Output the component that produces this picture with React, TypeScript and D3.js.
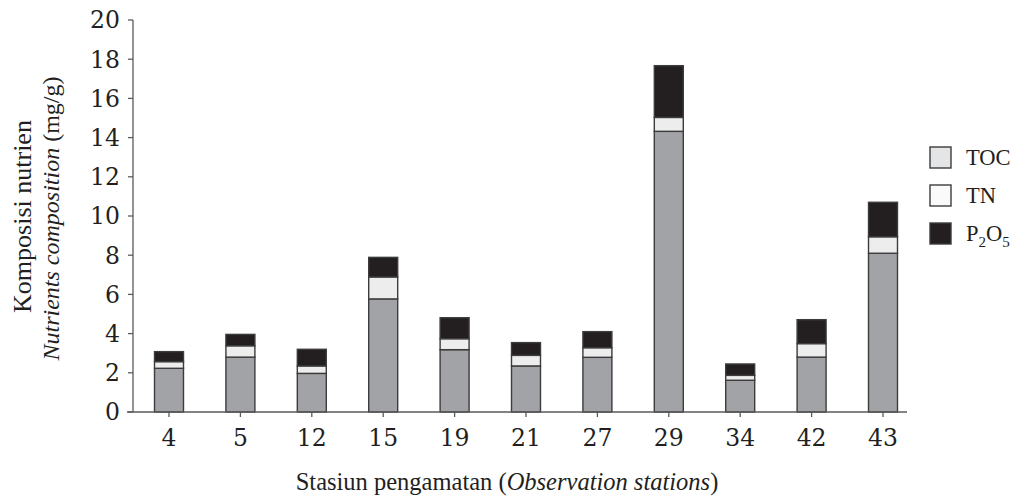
import React from "react";
import * as d3 from "d3";

const stations = ["4", "5", "12", "15", "19", "21", "27", "29", "34", "42", "43"];
const tocValues = [2.23, 2.8, 1.97, 5.77, 3.18, 2.35, 2.79, 14.32, 1.62, 2.8, 8.1];
const tnValues = [0.34, 0.58, 0.38, 1.12, 0.56, 0.54, 0.49, 0.71, 0.25, 0.69, 0.84];
const p2o5Values = [0.51, 0.58, 0.85, 1.0, 1.07, 0.65, 0.82, 2.64, 0.58, 1.22, 1.76];
const yTicks = [0, 2, 4, 6, 8, 10, 12, 14, 16, 18, 20];

const seriesKeys = ["TOC", "TN", "P2O5"];
const barColors: Record<string, string> = { TOC: "#a2a3a6", TN: "#ededed", P2O5: "#231f20" };
const legendColors: Record<string, string> = { TOC: "#e4e5e6", TN: "#fafafa", P2O5: "#231f20" };

const TEXT_FONT = "'Liberation Serif', 'DejaVu Serif', serif";
const NUM_FONT = "'DejaVu Serif', 'Liberation Serif', serif";

export default function App() {
  const W = 1017;
  const H = 497;
  const x = d3
    .scaleBand<string>()
    .domain(stations)
    .range([133.3, 918.7])
    .paddingInner(0.594)
    .paddingOuter(0.297);
  const y = d3.scaleLinear().domain([0, 20]).range([412, 20]);

  const rows = stations.map((s, i) => ({ station: s, TOC: tocValues[i], TN: tnValues[i], P2O5: p2o5Values[i] }));
  const stacked = d3.stack<any>().keys(seriesKeys)(rows);

  const axisColor = "#5a5a5a";
  const textColor = "#231f20";

  return (
    <svg width={W} height={H} style={{ position: "absolute", left: 0, top: 0, background: "#fff" }} fontFamily={TEXT_FONT}>
      {/* bars */}
      {stacked.map((layer) => (
        <g key={layer.key}>
          {layer.map((d, i) => (
            <rect
              key={i}
              x={x(stations[i])!}
              y={y(d[1])}
              width={x.bandwidth()}
              height={y(d[0]) - y(d[1])}
              fill={barColors[layer.key]}
              stroke="#3c3c3c"
              strokeWidth={1.4}
            />
          ))}
        </g>
      ))}

      {/* y axis */}
      <line x1={133} x2={133} y1={y(20)} y2={y(0)} stroke={axisColor} strokeWidth={1.3} />
      {yTicks.map((t) => (
        <g key={t}>
          <line x1={128} x2={133} y1={y(t)} y2={y(t)} stroke={axisColor} strokeWidth={1.3} />
          <text x={120} y={y(t)} dy="0.36em" textAnchor="end" fontSize={23.5} fontFamily={NUM_FONT} fill={textColor}>
            {t}
          </text>
        </g>
      ))}

      {/* x axis */}
      <line x1={127} x2={907} y1={y(0)} y2={y(0)} stroke={axisColor} strokeWidth={1.3} />
      {stations.map((s) => {
        const cx = x(s)! + x.bandwidth() / 2;
        return (
          <g key={s}>
            <line x1={cx} x2={cx} y1={y(0)} y2={y(0) + 5} stroke={axisColor} strokeWidth={1.3} />
            <text x={cx} y={446} textAnchor="middle" fontSize={23.5} fontFamily={NUM_FONT} fill={textColor}>
              {s}
            </text>
          </g>
        );
      })}

      {/* x axis title */}
      <text x={507} y={490} textAnchor="middle" fontSize={24.5} fill={textColor}>
        Stasiun pengamatan (<tspan fontStyle="italic">Observation stations</tspan>)
      </text>

      {/* y axis title */}
      <g transform="translate(31,0) rotate(-90)">
        <text x={-216.5} y={0} textAnchor="middle" fontSize={26} fill={textColor}>
          Komposisi nutrien
        </text>
        <text x={-218.5} y={28} textAnchor="middle" fontSize={24} fill={textColor}>
          <tspan fontStyle="italic">Nutrients composition</tspan> (mg/g)
        </text>
      </g>

      {/* legend */}
      {seriesKeys.map((k, i) => {
        const ly = 147 + i * 38;
        return (
          <g key={k}>
            <rect x={930} y={ly} width={21} height={21} fill={legendColors[k]} stroke="#3c3c3c" strokeWidth={1.4} />
            <text x={966} y={ly + 18} fontSize={22.5} fill={textColor}>
              {k === "P2O5" ? (
                <>
                  P<tspan fontSize={15} dy={6}>2</tspan>
                  <tspan dy={-6}>O</tspan>
                  <tspan fontSize={15} dy={6}>5</tspan>
                </>
              ) : (
                k
              )}
            </text>
          </g>
        );
      })}
    </svg>
  );
}
